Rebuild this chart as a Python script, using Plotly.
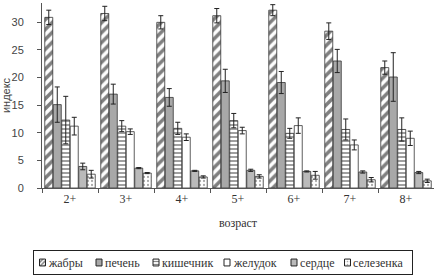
import plotly.graph_objects as go

ages = ["2+", "3+", "4+", "5+", "6+", "7+", "8+"]
series_names = ["жабры", "печень", "кишечник", "желудок", "сердце", "селезенка"]

zhabry = [30.9, 31.6, 30.0, 31.2, 32.2, 28.4, 21.8]
zhabry_err = [1.3, 1.3, 1.2, 1.3, 1.0, 1.5, 1.2]
pechen = [15.1, 17.0, 16.4, 19.4, 19.1, 23.0, 20.1]
pechen_err = [3.2, 1.8, 1.6, 2.1, 2.0, 2.1, 4.4]
kishechnik = [12.3, 11.2, 10.8, 12.2, 9.9, 10.6, 10.6]
kishechnik_err = [4.3, 1.0, 1.1, 1.3, 0.9, 1.9, 2.1]
zheludok = [11.2, 10.2, 9.2, 10.4, 11.3, 7.8, 9.0]
zheludok_err = [1.6, 0.5, 0.6, 0.6, 1.4, 0.9, 1.3]
serdce = [3.9, 3.6, 3.1, 3.2, 3.0, 2.9, 2.8]
serdce_err = [0.6, 0.1, 0.1, 0.2, 0.1, 0.2, 0.2]
selezenka = [2.5, 2.7, 2.0, 2.1, 2.3, 1.5, 1.3]
selezenka_err = [0.7, 0.1, 0.2, 0.3, 0.7, 0.4, 0.3]

values = [zhabry, pechen, kishechnik, zheludok, serdce, selezenka]
errors = [zhabry_err, pechen_err, kishechnik_err, zheludok_err, serdce_err, selezenka_err]

styles = [
    dict(color="white", pattern=dict(shape="/", fgcolor="#000000", bgcolor="white", size=7, solidity=0.5)),
    dict(color="#a8a8a8", pattern=dict(shape="")),
    dict(color="white", pattern=dict(shape="-", fgcolor="#111111", bgcolor="white", size=4, solidity=0.4)),
    dict(color="white", pattern=dict(shape="")),
    dict(color="#bababa", pattern=dict(shape="")),
    dict(color="white", pattern=dict(shape=".", fgcolor="#555555", bgcolor="white", size=4, solidity=0.25)),
]

# custom one-row legend layout (pixel units inside the legend box)
legend_swatch_x = [8.5, 65, 122, 193, 260, 313.5]
legend_text_x = [12, 69, 126, 197, 264, 317]

W, H = 434, 275
T, B = 3, 1
ph = H - T - B
serif = "'Liberation Serif', 'Times New Roman', serif"
sans = "'Liberation Sans', Arial, sans-serif"

fig = go.Figure()
for name, v, e, st in zip(series_names, values, errors, styles):
    fig.add_trace(go.Bar(
        name=name, x=ages, y=v, showlegend=False,
        error_y=dict(type="data", array=e, color="#222222", thickness=1, width=2.5),
        marker=dict(color=st["color"], pattern=st["pattern"],
                    line=dict(color="#333333", width=0.8)),
        xaxis="x", yaxis="y",
    ))

# legend swatches
for i, (name, st) in enumerate(zip(series_names, styles)):
    pat = dict(st["pattern"])
    if pat.get("shape"):
        pat["size"] = 3
    fig.add_trace(go.Bar(
        x=[legend_swatch_x[i]], y=[0.3], base=[0.35], width=[6], showlegend=False,
        marker=dict(color=st["color"], pattern=pat, line=dict(color="#222222", width=1)),
        xaxis="x2", yaxis="y2", hoverinfo="skip",
    ))
    fig.add_annotation(x=legend_text_x[i], y=0.5, xref="x2", yref="y2", text=name,
                       showarrow=False, xanchor="left", yanchor="middle",
                       font=dict(family=serif, size=12, color="#333333"))

main_bottom = (H - B - 188) / ph
leg_top = (H - B - 251) / ph

fig.update_layout(
    width=W, height=H,
    margin=dict(l=0, r=0, t=T, b=B, autoexpand=False),
    paper_bgcolor="white", plot_bgcolor="white",
    barmode="group", bargap=0.09, bargroupgap=0.06,
    font=dict(family=serif, size=12, color="#333333"),
    showlegend=False,
    xaxis=dict(domain=[42 / W, 1], anchor="y", showline=True, linecolor="#555555", linewidth=1,
               ticks="outside", tickson="boundaries", ticklen=4, tickcolor="#555555",
               showgrid=False, automargin=False,
               tickfont=dict(family=serif, size=12, color="#333333"),
               title=dict(text="возраст", font=dict(size=12, family=serif, color="#333333"), standoff=13)),
    yaxis=dict(domain=[main_bottom, 1], anchor="x", showline=True, linecolor="#555555", linewidth=1,
               ticks="outside", ticklen=4, tickcolor="#555555", ticklabelstandoff=11,
               range=[0, 33.5], dtick=5, showgrid=False, zeroline=False, automargin=False,
               tickfont=dict(family=sans, size=11, color="#444444"),
               title=dict(text="индекс", font=dict(size=11, family=sans, color="#444444"), standoff=3)),
    xaxis2=dict(domain=[34 / W, 412 / W], anchor="y2", range=[0, 378], showline=True, mirror=True,
                linecolor="#222222", linewidth=1, showticklabels=False, ticks="", showgrid=False,
                zeroline=False, fixedrange=True),
    yaxis2=dict(domain=[0, leg_top], anchor="x2", range=[0, 1], showline=True, mirror=True,
                linecolor="#222222", linewidth=1, showticklabels=False, ticks="", showgrid=False,
                zeroline=False, fixedrange=True),
)

fig.write_html("out.html", config={"displayModeBar": False},
               post_script="document.body.style.margin='0';")
